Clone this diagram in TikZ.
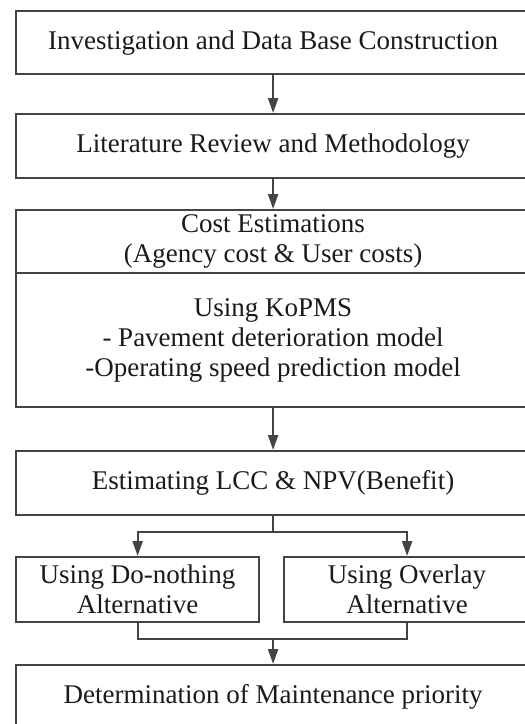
\documentclass[tikz,border=0pt]{standalone}
\usepackage{fontspec}
\setmainfont{Liberation Serif}
\usetikzlibrary{arrows.meta, positioning, calc}
\definecolor{edgegray}{HTML}{444444}
\definecolor{textdark}{HTML}{1A1A1A}

\begin{document}
\begin{tikzpicture}[
    x=1pt, y=1pt,
    every node/.style={font=\fontsize{27}{30}\selectfont, text=textdark, align=center},
    box/.style={draw=edgegray, line width=2.2pt, anchor=north west, minimum width=514, inner sep=0pt},
    halfbox/.style={box, minimum width=243},
    arr/.style={draw=edgegray, line width=2.2pt, -{Triangle[length=15pt, width=10pt]}},
    link/.style={draw=edgegray, line width=2.2pt}
]

\def\lx{15}
\def\gap{16}

% Page frame (the picture is cut at the right and bottom)
\useasboundingbox (0,0) rectangle (525,-724);
\clip (0,0) rectangle (525,-724);

% Boxes
\node[box, minimum height=63] (invest) at (\lx,-10) {Investigation and Data Base Construction};
\node[box, minimum height=64] (review) at (\lx,-113) {Literature Review and Methodology};
\node[box, minimum height=63] (cost) at (\lx,-209) {Cost Estimations\\(Agency cost \& User costs)};
\node[box, minimum height=134] (kopms) at (\lx,-272) {Using KoPMS\\- Pavement deterioration model\\-Operating speed prediction model};
\node[box, minimum height=64] (lcc) at (\lx,-450) {Estimating LCC \& NPV(Benefit)};
\node[halfbox, minimum height=65] (donothing) at (\lx,-556) {Using Do-nothing\\Alternative};
\node[halfbox, minimum width=246, minimum height=65] (overlay) at (283,-556) {Using Overlay\\Alternative};
\node[box, minimum height=64] (priority) at (\lx,-664) {Determination of Maintenance priority};

% Connecting lines
\draw[arr] (invest.south) -- (review.north);
\draw[arr] (review.south) -- (cost.north);
\draw[arr] (kopms.south) -- (lcc.north);
\draw[arr] (lcc.south) -- ++(0,-\gap) -| (donothing.north);
\draw[arr] (lcc.south) -- ++(0,-\gap) -| (overlay.north);
\draw[link] (donothing.south) -- ++(0,-\gap) coordinate (merge) -| (overlay.south);
\draw[arr] (merge -| priority.north) -- (priority.north);

\end{tikzpicture}
\end{document}
